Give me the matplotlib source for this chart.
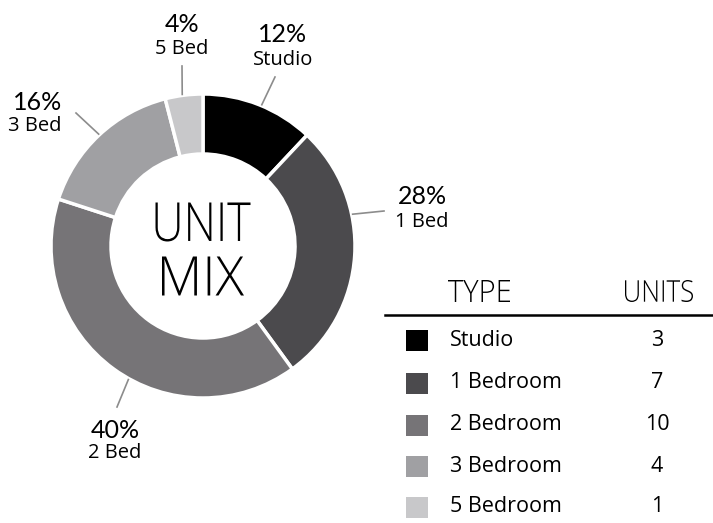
import numpy as np
import matplotlib.pyplot as plt
from matplotlib.patches import Rectangle, PathPatch
from matplotlib.textpath import TextPath
from matplotlib.font_manager import FontProperties
from matplotlib.transforms import Affine2D

W, H = 713, 523

unit_types = ["Studio", "1 Bedroom", "2 Bedroom", "3 Bedroom", "5 Bedroom"]
short_names = ["Studio", "1 Bed", "2 Bed", "3 Bed", "5 Bed"]
unit_counts = [3, 7, 10, 4, 1]
colors = ["#000000", "#4b4a4d", "#767477", "#a0a0a3", "#c8c8ca"]

# label layout (pixel coords, y from top)
leader_angles = [67.4, 12.0, -119.2, 133.0, 97.8]
leader_ends = [(275, 77), (384, 211), (117, 407), (76, 113), (182, 66)]
pct_pos = [(283, 35), (422, 196), (115, 430), (38, 102), (182, 25)]
name_pos = [(283, 60), (422, 222), (115, 453), (35, 126), (182, 49)]

BODY = ["Open Sans", "DejaVu Sans"]
NUM = ["Lato", "DejaVu Sans"]


def py(y):
    return H - y


def boxed_text(ax, s, xc, yc, width, height, weight="light"):
    # squeeze the glyph outlines into a box, for the condensed headings
    prop = FontProperties(family="Open Sans", weight=weight)
    tp = TextPath((0, 0), s, size=100, prop=prop)
    ext = tp.get_extents()
    sx = width / ext.width
    sy = height / ext.height
    tr = (Affine2D().translate(-ext.x0 - ext.width / 2, -ext.y0 - ext.height / 2)
          .scale(sx, sy).translate(xc, yc))
    ax.add_patch(PathPatch(tr.transform_path(tp), facecolor="black",
                           edgecolor="none"))


fig = plt.figure(figsize=(W / 100, H / 100), dpi=100)
ax = fig.add_axes([0, 0, 1, 1])

cx, cy, r_out, r_in = 203, py(246), 152, 92
ax.pie(
    unit_counts,
    colors=colors,
    startangle=90,
    counterclock=False,
    radius=r_out,
    center=(cx, cy),
    wedgeprops=dict(width=r_out - r_in, edgecolor="white", linewidth=2.5),
    frame=True,
)
ax.set_xlim(0, W)
ax.set_ylim(0, H)
ax.set_aspect("equal")
ax.axis("off")

boxed_text(ax, "UNIT", cx, py(222), 95, 39)
boxed_text(ax, "MIX", cx, py(276), 82, 39)

total = sum(unit_counts)
for i, n in enumerate(unit_counts):
    a = np.radians(leader_angles[i])
    x0 = cx + (r_out + 1) * np.cos(a)
    y0 = cy + (r_out + 1) * np.sin(a)
    ex, ey = leader_ends[i]
    ax.plot([x0, ex], [y0, py(ey)], color="#8c8c8c", lw=1.2)
    pct = round(100 * n / total)
    px_, py_ = pct_pos[i]
    ax.text(px_, py(py_), f"{pct}%", ha="center", va="center", fontsize=18,
            family=NUM)
    nx, ny = name_pos[i]
    ax.text(nx, py(ny), short_names[i], ha="center", va="center", fontsize=14.5,
            family=BODY)

# table
boxed_text(ax, "TYPE", 479, py(291), 62, 22)
boxed_text(ax, "UNITS", 659, py(291), 68, 22)
ax.plot([385, W], [py(315), py(315)], color="black", lw=1.8)

row_y = [340, 383, 425, 466, 507]
for i, name in enumerate(unit_types):
    y = py(row_y[i])
    ax.add_patch(Rectangle((406, y - 10.5), 22, 21, facecolor=colors[i],
                           edgecolor="none"))
    ax.text(450, y, name, ha="left", va="center", fontsize=15.5, family=BODY)
    ax.text(657, y, str(unit_counts[i]), ha="center", va="center", fontsize=15.5,
            family=BODY)

fig.savefig("out.png", dpi=100)
